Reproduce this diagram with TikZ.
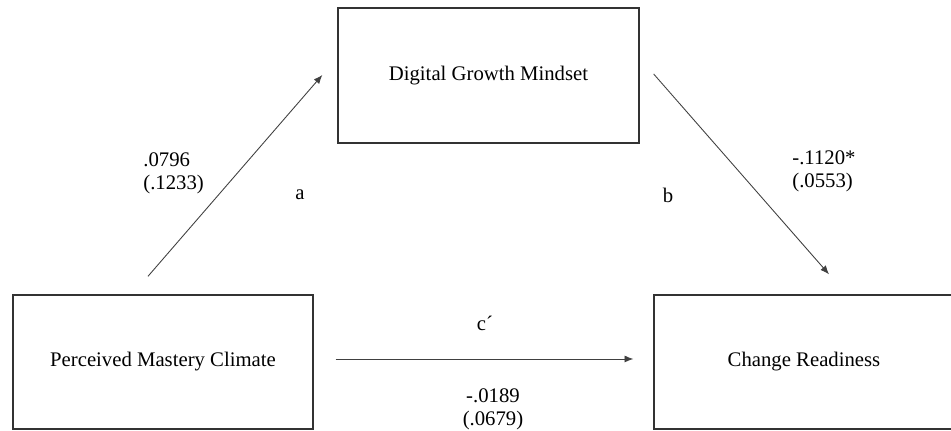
\documentclass[tikz,border=0pt]{standalone}
\usepackage{fontspec}
\setmainfont{Liberation Serif}
\usepackage{tikz}
\usetikzlibrary{arrows.meta,positioning}

\begin{document}
\begin{tikzpicture}[x=0.02cm, y=0.02cm,
    font=\fontsize{11.8}{13.2}\selectfont,
    >={Latex[length=5pt,width=4pt]},
    varbox/.style={draw=black!80, line width=0.8pt, minimum width=6cm, minimum height=2.68cm, inner sep=0pt},
    path/.style={->, draw=black!75, line width=0.5pt},
    coef/.style={inner sep=0pt, align=left}]
    \useasboundingbox (0,0) rectangle (951,431);
    % the three variables
    \node[varbox, minimum width=6.02cm, minimum height=2.7cm] (dgm) at (488.5,355.5) {Digital Growth Mindset};
    \node[varbox] (pmc) at (163,69) {Perceived Mastery Climate};
    \node[varbox] (cr) at (804,69) {Change Readiness};
    % paths
    \draw[path] ([shift={(-15,18)}]pmc.north) -- ([shift={(-15,0.5)}]dgm.west);
    \draw[path] ([shift={(14,1.5)}]dgm.east) -- ([shift={(25,20)}]cr.north);
    \draw[path] ([shift={(22,3)}]pmc.east) -- ([shift={(-20,3)}]cr.west);
    % coefficients
    \node[coef, anchor=west] (acoef) at (143,257.5) {.0796\\(.1233)};
    \node[coef, anchor=west] (bcoef) at (792,259.5) {-.1120*\\(.0553)};
    \node[coef, align=center] (ccoef) at (493,21.5) {-.0189\\(.0679)};
    \node (alab) at (300,236) {a};
    \node (blab) at (668,236) {b};
    \node (clab) at (485,108) {c´};
\end{tikzpicture}
\end{document}
